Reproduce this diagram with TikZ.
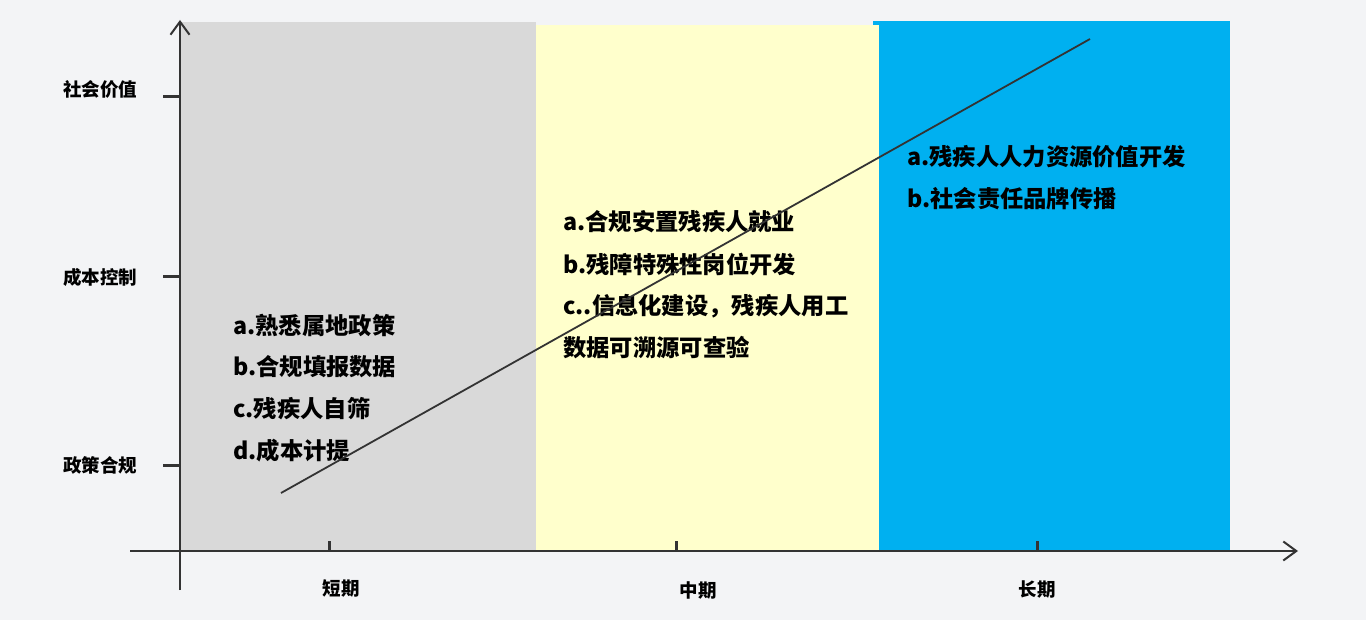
\documentclass[tikz,border=0pt]{standalone}
\usepackage{fontspec}
\newfontfamily\cjk{Noto Sans CJK SC}
\usetikzlibrary{arrows.meta}
\definecolor{bggray}{HTML}{F3F4F6}
\definecolor{shortgray}{HTML}{D9D9D9}
\definecolor{midyellow}{HTML}{FFFFCC}
\definecolor{longblue}{HTML}{00B0F0}
\definecolor{axisgray}{HTML}{333333}

\begin{document}
\begin{tikzpicture}[x=1pt,y=-1pt]
\tikzstyle{every node}=[inner sep=0pt, text=black]
\tikzstyle{item}=[anchor=west, font=\cjk\bfseries\fontsize{23.3}{27}\selectfont]
\tikzstyle{axlabel}=[font=\cjk\bfseries\fontsize{18.5}{21}\selectfont]
\tikzstyle{axis}=[line width=2pt, draw=axisgray, -{Straight Barb[length=13pt,width=19pt]}]
\tikzstyle{tick}=[line width=3pt, draw=axisgray]
% background and the three periods
\fill[bggray] (0,0) rectangle (1366,620);
\fill[shortgray] (180,22) rectangle (536,551);
\fill[longblue] (873,21) rectangle (1230,551);
\fill[midyellow] (536,25) rectangle (879,551);
% axes
\coordinate (ybot) at (180,590);
\coordinate (ytop) at (180,20);
\coordinate (xleft) at (130,551);
\coordinate (xright) at (1298,551);
\draw[axis] (ybot) -- (ytop);
\draw[axis] (xleft) -- (xright);
% ticks
\draw[tick] (163,97) -- (180,97);
\draw[tick] (163,277) -- (180,277);
\draw[tick] (163,465) -- (180,465);
\draw[tick] (329,541) -- (329,551);
\draw[tick] (676,541) -- (676,551);
\draw[tick] (1037,541) -- (1037,551);
% axis labels
\draw (100,89) node (social) [axlabel] {社会价值};
\draw (100,277) node (cost) [axlabel] {成本控制};
\draw (100,465) node (policy) [axlabel] {政策合规};
\draw (341,589) node (short) [axlabel] {短期};
\draw (698,590) node (mid) [axlabel] {中期};
\draw (1037,590) node (long) [axlabel] {长期};
% short term
\draw (233,325) node (s1) [item] {a.熟悉属地政策};
\draw (233,367) node (s2) [item] {b.合规填报数据};
\draw (233,409) node (s3) [item] {c.残疾人自筛};
\draw (233,451) node (s4) [item] {d.成本计提};
% mid term
\draw (563,222) node (m1) [item] {a.合规安置残疾人就业};
\draw (563,264) node (m2) [item] {b.残障特殊性岗位开发};
\draw (563,306) node (m3) [item] {c..信息化建设，残疾人用工};
\draw (563,348) node (m4) [item] {数据可溯源可查验};
% long term
\draw (907,157) node (l1) [item] {a.残疾人人力资源价值开发};
\draw (907,199) node (l2) [item] {b.社会责任品牌传播};
% trend
\coordinate (trendlow) at (281,493);
\coordinate (trendhigh) at (1090,39);
\draw[line width=1.8pt, axisgray] (trendlow) -- (trendhigh);
\end{tikzpicture}
\end{document}
